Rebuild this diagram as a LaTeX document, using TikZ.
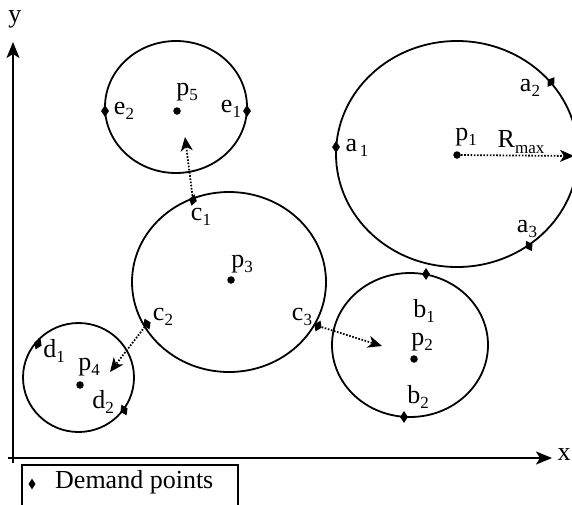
\documentclass[tikz,border=0pt]{standalone}
\usepackage{fontspec}
\setmainfont{Liberation Serif}
\usetikzlibrary{shapes.geometric,arrows.meta}
\newcommand\mylbl[2]{#1\raisebox{-0.22em}{\fontsize{17}{17}\selectfont #2}}
\tikzset{
  ring/.style={line width=1.8pt},
  dem/.style={shape=diamond,fill=black,draw=none,inner sep=0pt,minimum width=8pt,minimum height=12pt},
  ctr/.style={circle,fill=black,inner sep=0pt,minimum size=7.5pt},
  lab/.style={font=\fontsize{26}{28}\selectfont,inner sep=0pt},
  move/.style={line width=1.8pt,dash pattern=on 1.6pt off 1.6pt,-{Stealth[length=14pt,width=12pt,inset=4pt]}},
  axis/.style={line width=1.8pt,-{Stealth[length=16pt,width=13pt,inset=4pt]}}
}
\begin{document}
\begin{tikzpicture}[x=1pt,y=-1pt]
\useasboundingbox (0,0) rectangle (572,504);
% circles
\draw[ring] (457,154) ellipse [x radius=121,y radius=113];
\draw[ring] (410,345) ellipse [x radius=78,y radius=72];
\draw[ring] (229,282) ellipse [x radius=97,y radius=90];
\draw[ring] (78.5,377.5) ellipse [x radius=55.5,y radius=54.5];
\draw[ring] (176,107) ellipse [x radius=71,y radius=66];
% axes
\coordinate (ybot) at (13,463);
\coordinate (ytop) at (13,42);
\coordinate (xl) at (8,458);
\coordinate (xr) at (552,458);
\draw[axis] (ybot) -- (ytop);
\draw[axis] (xl) -- (xr);
\node[lab] (ylab) at (15,19) {y};
\node[lab] (xlab) at (564,455) {x};
% centres
\node[ctr] (p1) at (457,155) {};
\node[ctr] (p2) at (414,359) {};
\node[ctr] (p3) at (231,280) {};
\node[ctr] (p4) at (80,385) {};
\node[ctr] (p5) at (177,111) {};
\node[lab] (p1l) at (466,137) {\mylbl{p}{1}};
\node[lab] (p2l) at (422,342) {\mylbl{p}{2}};
\node[lab] (p3l) at (242,264) {\mylbl{p}{3}};
\node[lab] (p4l) at (89,367) {\mylbl{p}{4}};
\node[lab] (p5l) at (187,92) {\mylbl{p}{5}};
% demand points
\node[dem] (a1) at (336,147) {};
\node[dem,rotate=-35] (a2) at (551,82) {};
\node[dem,rotate=30] (a3) at (529,246) {};
\node[dem] (b1) at (426,274) {};
\node[dem] (b2) at (404,417) {};
\node[dem,rotate=-15] (c1) at (193,200) {};
\node[dem,rotate=25] (c2) at (147,324) {};
\node[dem,rotate=-25] (c3) at (318,326) {};
\node[dem,rotate=-25] (d1) at (38,344) {};
\node[dem,rotate=25] (d2) at (124,410) {};
\node[dem] (e1) at (247,111) {};
\node[dem] (e2) at (105,111) {};
\node[lab] (a1l) at (357,148) {\mylbl{a}{\,1}};
\node[lab] (a2l) at (530,88) {\mylbl{a}{2}};
\node[lab] (a3l) at (527,229) {\mylbl{a}{3}};
\node[lab] (b1l) at (424,311) {\mylbl{b}{1}};
\node[lab] (b2l) at (418,397) {\mylbl{b}{2}};
\node[lab] (c1l) at (201,217) {\mylbl{c}{1}};
\node[lab] (c2l) at (163,317) {\mylbl{c}{2}};
\node[lab] (c3l) at (302,317) {\mylbl{c}{3}};
\node[lab] (d1l) at (54,351) {\mylbl{d}{1}};
\node[lab] (d2l) at (103,402) {\mylbl{d}{2}};
\node[lab] (e1l) at (231,109) {\mylbl{e}{1}};
\node[lab] (e2l) at (124,111) {\mylbl{e}{2}};
% moves
\coordinate (t1) at (185,137);
\coordinate (t2) at (110,372);
\coordinate (t3) at (382,346);
\coordinate (rend) at (574,156);
\draw[move] (c1) -- (t1);
\draw[move] (c2) -- (t2);
\draw[move] (c3) -- (t3);
\draw[move] (p1) -- (rend);
\node[lab] (rmax) at (521,142) {R\raisebox{-0.2em}{\fontsize{17}{17}\selectfont max}};
% legend
\draw[line width=1.8pt] (22,465) rectangle (238,512);
\node[dem,minimum width=7pt,minimum height=11pt] (leg) at (32,484) {};
\node[lab,anchor=west] (legt) at (55,482) {Demand points};
\end{tikzpicture}
\end{document}
